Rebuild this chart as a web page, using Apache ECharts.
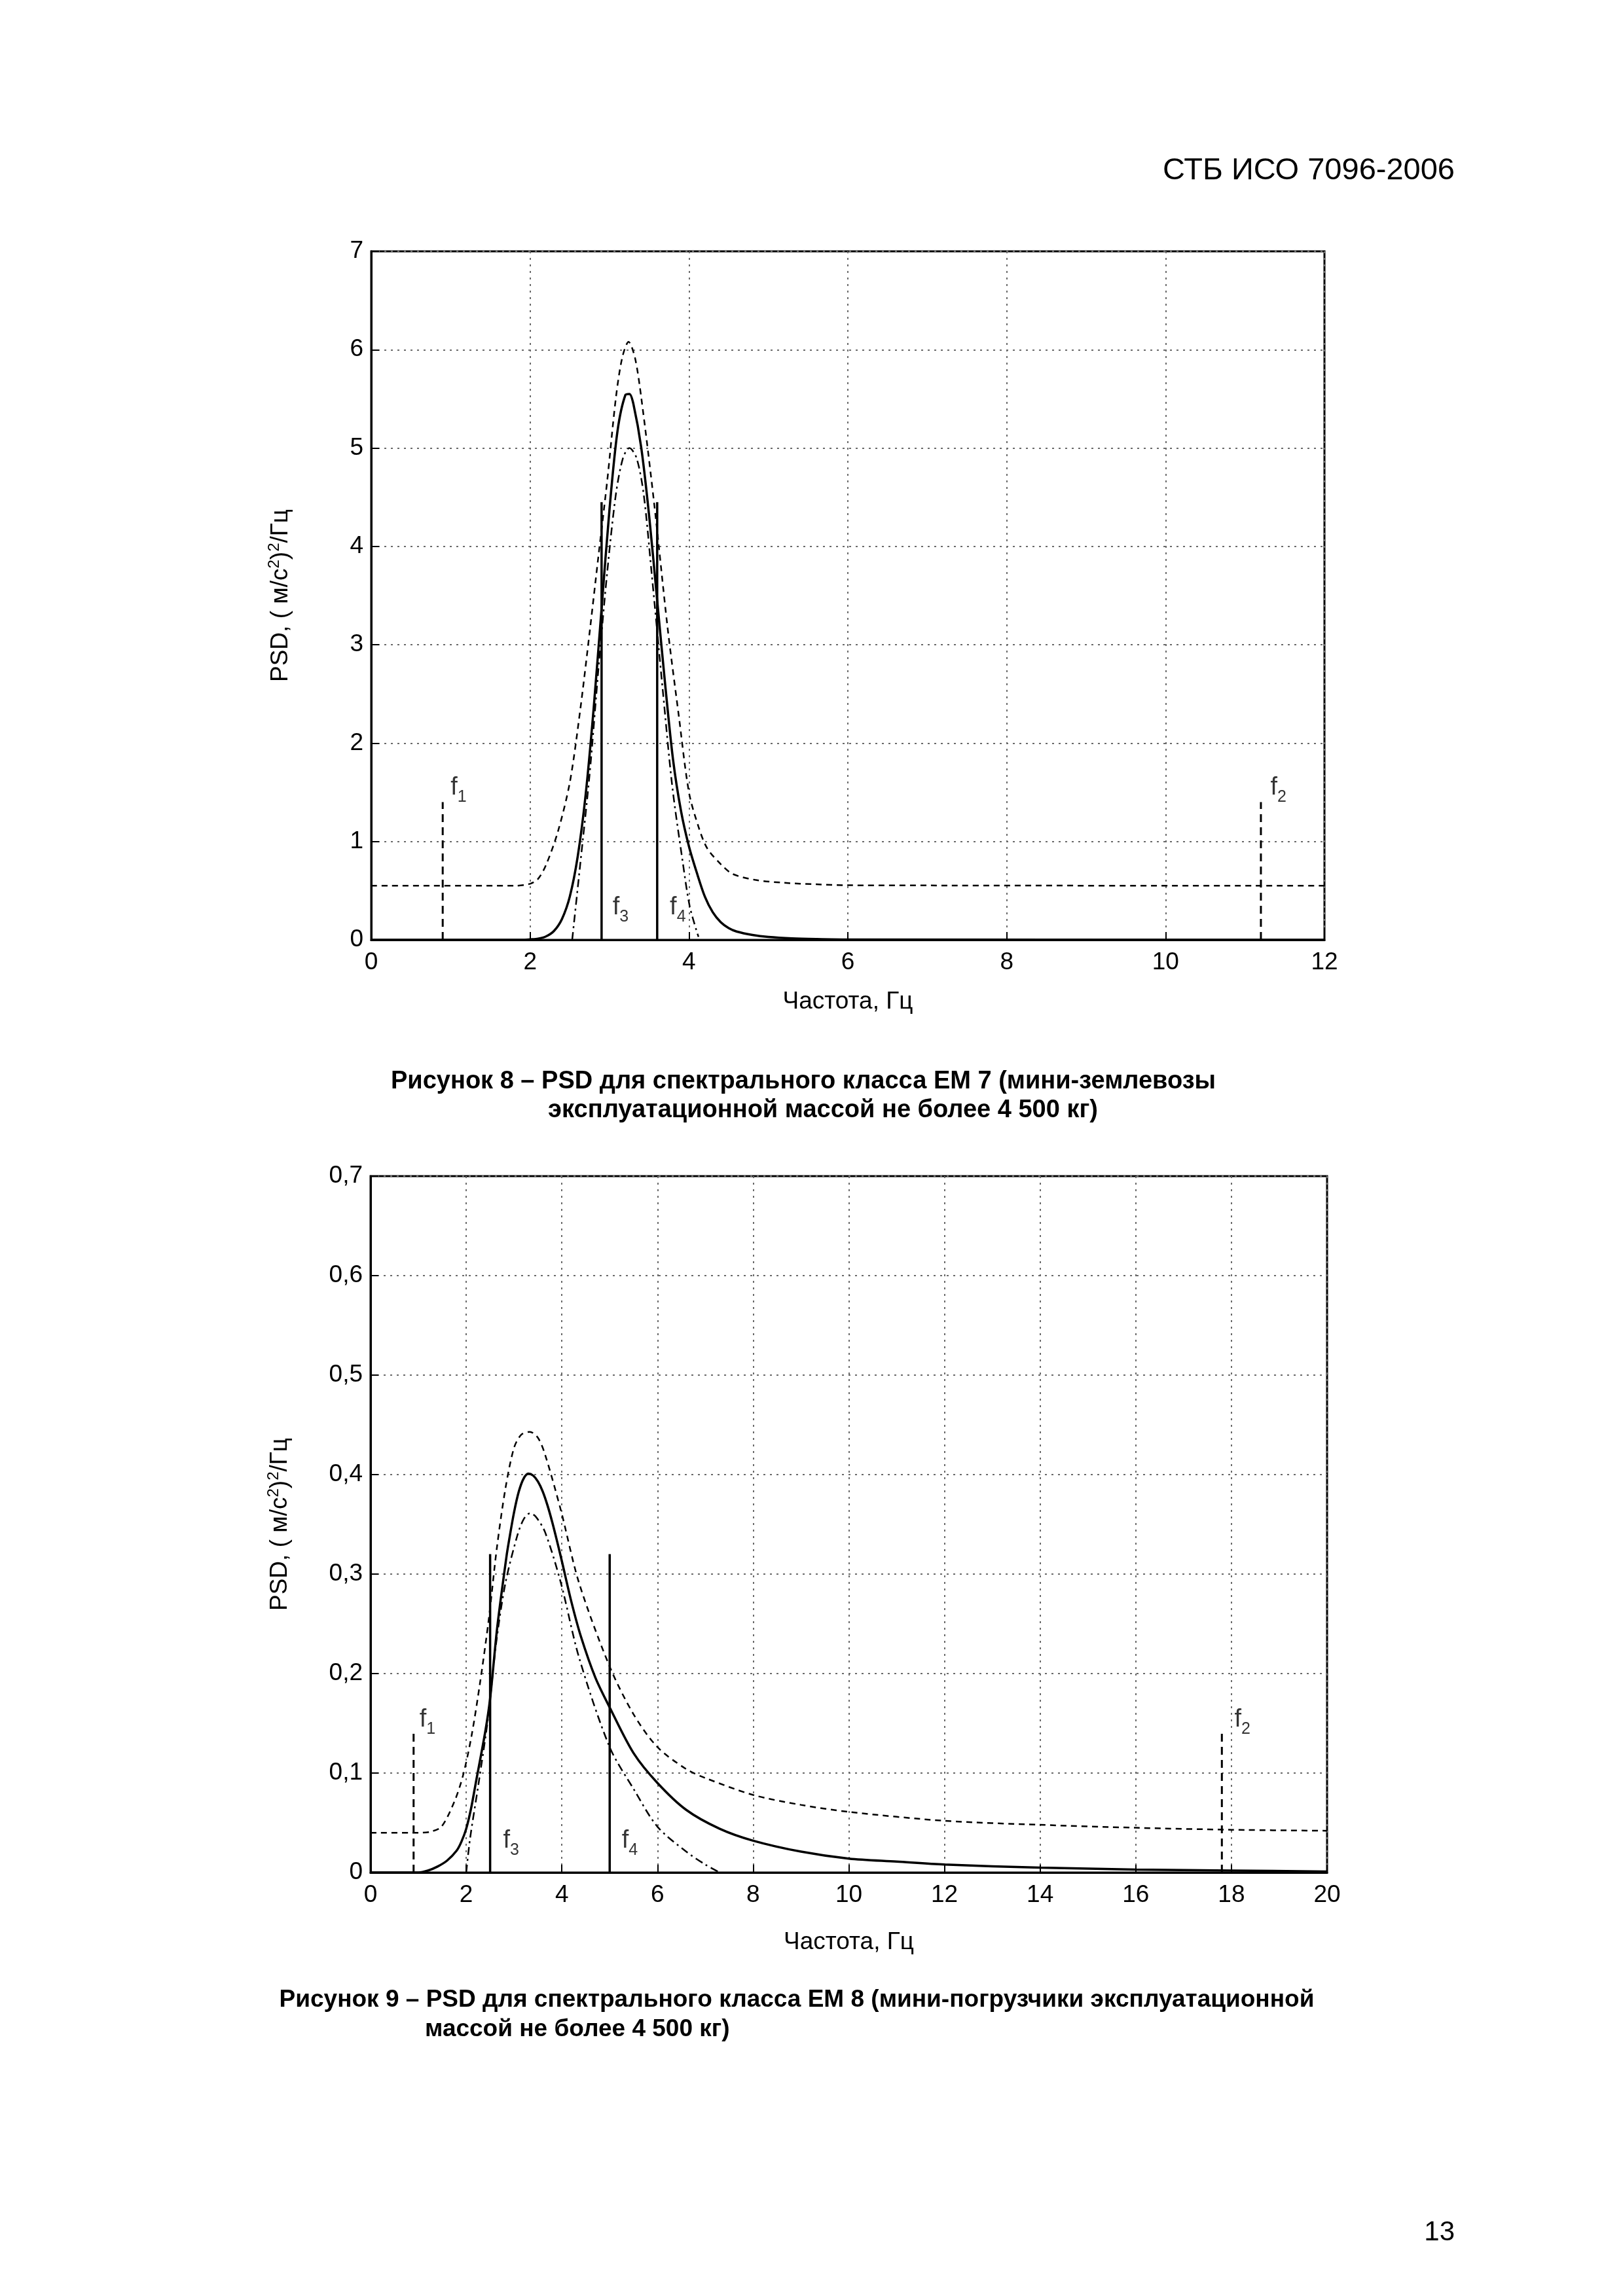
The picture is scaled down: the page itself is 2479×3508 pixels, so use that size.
<!DOCTYPE html>
<html>
<head>
<meta charset="utf-8">
<script src="https://cdn.jsdelivr.net/npm/echarts@6/dist/echarts.min.js"></script>
<style>
html,body{margin:0;padding:0;background:#fff;}
#c{width:2479px;height:3508px;}
</style>
</head>
<body>
<div id="c"></div>
<script>
// ---------- Figure 8 (EM 7) ----------
const em7SolidX = [0, 1.9, 2.0, 2.1, 2.2, 2.3, 2.4, 2.5, 2.6, 2.7, 2.8, 2.9, 3.0, 3.1, 3.2, 3.25, 3.3, 3.4, 3.5, 3.6, 3.7, 3.8, 3.9, 4.0, 4.1, 4.2, 4.3, 4.4, 4.5, 4.6, 4.8, 5.0, 5.3, 5.6, 6.0, 12];
const em7SolidY = [0, 0, 0.005, 0.012, 0.035, 0.09, 0.21, 0.44, 0.85, 1.48, 2.35, 3.37, 4.38, 5.17, 5.54, 5.55, 5.45, 5.0, 4.3, 3.45, 2.6, 1.83, 1.31, 0.95, 0.68, 0.44, 0.28, 0.18, 0.12, 0.085, 0.05, 0.03, 0.015, 0.008, 0.003, 0];
const em7UpperX = [0, 1.8, 2.0, 2.1, 2.2, 2.35, 2.5, 2.63, 2.75, 2.86, 2.97, 3.08, 3.16, 3.24, 3.32, 3.40, 3.56, 3.73, 3.87, 4.0, 4.12, 4.23, 4.4, 4.55, 4.83, 5.2, 5.6, 6.0, 12];
const em7UpperY = [0.55, 0.55, 0.57, 0.62, 0.76, 1.10, 1.6, 2.33, 3.13, 3.90, 4.66, 5.51, 5.92, 6.08, 5.92, 5.51, 4.45, 3.18, 2.29, 1.5, 1.15, 0.93, 0.77, 0.67, 0.61, 0.58, 0.565, 0.555, 0.55];
const em7LowerX = [2.53, 2.63, 2.75, 2.86, 2.97, 3.08, 3.17, 3.25, 3.34, 3.43, 3.53, 3.67, 3.79, 3.92, 4.01, 4.12];
const em7LowerY = [0, 0.76, 1.69, 2.75, 3.73, 4.53, 4.9, 5.0, 4.9, 4.53, 3.73, 2.54, 1.56, 0.80, 0.34, 0.03];
const em7MarkX = [0.9, 11.2, 2.9, 3.6];
const em7MarkH = [1.4, 1.4, 4.45, 4.45];
const em7LabelX = [1.1, 11.42, 3.14, 3.86];
const em7LabelY = [1.52, 1.52, 0.3, 0.3];
const em7XTicks = {min: 0, max: 12, interval: 2};
const em7YTicks = {min: 0, max: 7, interval: 1};

// ---------- Figure 9 (EM 8) ----------
const em8SolidX = [0, 1.0, 1.2, 1.4, 1.6, 1.8, 1.9, 2.0, 2.1, 2.2, 2.4, 2.5, 2.65, 2.84, 2.9, 3.0, 3.1, 3.2, 3.3, 3.4, 3.5, 3.6, 3.7, 3.8, 3.9, 4.0, 4.2, 4.4, 4.7, 5.0, 5.5, 6.0, 6.6, 7.3, 8, 9, 10, 11, 12, 14, 16, 18, 20];
const em8SolidY = [0, 0, 0.002, 0.006, 0.012, 0.022, 0.031, 0.044, 0.064, 0.09, 0.142, 0.175, 0.247, 0.317, 0.335, 0.362, 0.383, 0.396, 0.401, 0.399, 0.393, 0.383, 0.369, 0.352, 0.333, 0.313, 0.272, 0.237, 0.196, 0.166, 0.12, 0.09, 0.063, 0.044, 0.032, 0.021, 0.014, 0.011, 0.008, 0.005, 0.003, 0.002, 0.001];
const em8UpperX = [0, 1.0, 1.25, 1.48, 1.75, 1.93, 2.11, 2.29, 2.47, 2.64, 2.82, 3.0, 3.15, 3.33, 3.5, 3.65, 3.98, 4.36, 5.0, 5.5, 6.0, 6.6, 7.0, 8, 9, 10, 12, 14, 16, 18, 20];
const em8UpperY = [0.04, 0.04, 0.041, 0.046, 0.071, 0.097, 0.137, 0.191, 0.254, 0.326, 0.386, 0.427, 0.44, 0.443, 0.437, 0.42, 0.364, 0.291, 0.207, 0.159, 0.126, 0.104, 0.095, 0.078, 0.068, 0.061, 0.052, 0.048, 0.045, 0.043, 0.042];
const em8LowerX = [2.0, 2.08, 2.26, 2.45, 2.63, 2.82, 3.07, 3.2, 3.33, 3.45, 3.65, 3.98, 4.36, 5.0, 5.5, 6.0, 6.6, 7.0, 7.3];
const em8LowerY = [0, 0.034, 0.09, 0.153, 0.232, 0.291, 0.339, 0.355, 0.361, 0.358, 0.342, 0.291, 0.216, 0.126, 0.084, 0.046, 0.021, 0.008, 0];
const em8MarkX = [0.9, 17.8, 2.5, 5.0];
const em8MarkH = [0.14, 0.14, 0.32, 0.32];
const em8LabelX = [1.19, 18.23, 2.94, 5.42];
const em8LabelY = [0.151, 0.151, 0.029, 0.029];
const em8XTicks = {min: 0, max: 20, interval: 2};
const em8YTicks = {min: 0, max: 0.7, interval: 0.1};

const markSubs = ['1', '2', '3', '4'];
const markDashed = [true, true, false, false];

// ---------- Texts ----------
const headerText = 'СТБ ИСО 7096-2006';
const pageNumber = '13';
const caption8 = ['Рисунок 8 – PSD для спектрального класса EM 7 (мини-землевозы', 'эксплуатационной массой не более 4 500 кг)'];
const caption9 = ['Рисунок 9 – PSD для спектрального класса EM 8 (мини-погрузчики эксплуатационной', 'массой не более 4 500 кг)'];
const xTitle = 'Частота, Гц';
const yTitle = 'PSD, ( м/с{sup|2}){sup|2}/Гц';

const FONT = '"Liberation Sans", Arial, sans-serif';

const zip = (xs, ys) => xs.map((x, i) => [x, ys[i]]);

function axesFor(gridIndex, xt, yt, yFmt, xNameGap) {
  const common = {
    gridIndex: gridIndex,
    axisLine: {show: true, onZero: false, lineStyle: {color: '#000', width: 3}},
    axisTick: {show: true, inside: true, length: 12, lineStyle: {color: '#000', width: 2}},
    splitLine: {show: true, lineStyle: {color: '#6a6a6a', width: 2, type: [3, 7]}},
    axisLabel: {color: '#000', fontFamily: FONT, fontSize: 37},
    nameTextStyle: {color: '#000', fontFamily: FONT, fontSize: 37}
  };
  const x = Object.assign({}, common, {
    type: 'value', min: xt.min, max: xt.max, interval: xt.interval,
    name: xTitle, nameLocation: 'middle', nameGap: xNameGap,
    axisLabel: Object.assign({}, common.axisLabel, {margin: 16})
  });
  const y = Object.assign({}, common, {
    type: 'value', min: yt.min, max: yt.max, interval: yt.interval,
    name: yTitle, nameLocation: 'middle', nameGap: 116, nameRotate: 90,
    nameTextStyle: {color: '#000', fontFamily: FONT, fontSize: 37, lineHeight: 44,
      rich: {sup: {fontFamily: FONT, fontSize: 24, lineHeight: 24, verticalAlign: 'top', color: '#000'}}},
    axisLabel: Object.assign({}, common.axisLabel, {margin: 12, formatter: yFmt})
  });
  return {x, y};
}

function curve(idx, xs, ys, width, type, z) {
  return {type: 'line', xAxisIndex: idx, yAxisIndex: idx, data: zip(xs, ys), showSymbol: false,
    smooth: 0.3, lineStyle: {color: '#000', width: width, type: type}, z: z};
}

function seriesFor(idx, d) {
  const s = [];
  s.push(curve(idx, d.upX, d.upY, 2.5, [9, 7], 3));
  s.push(curve(idx, d.loX, d.loY, 2.5, [12, 6, 3, 6], 3));
  s.push(curve(idx, d.soX, d.soY, 3.5, 'solid', 4));
  d.mX.forEach((mx, i) => {
    s.push({type: 'line', xAxisIndex: idx, yAxisIndex: idx, data: [[mx, 0], [mx, d.mH[i]]], showSymbol: false,
      lineStyle: {color: '#000', width: markDashed[i] ? 3 : 3.5, type: markDashed[i] ? [12, 8] : 'solid'}, z: 5});
  });
  s.push({type: 'scatter', xAxisIndex: idx, yAxisIndex: idx, symbolSize: 1, itemStyle: {color: 'rgba(0,0,0,0)'},
    data: d.lX.map((x, i) => ({value: [x, d.lY[i]], sub: markSubs[i]})),
    label: {show: true, position: 'inside', color: '#000',
      formatter: p => '{f|f}{s|' + p.data.sub + '}',
      rich: {f: {fontFamily: FONT, fontSize: 38, lineHeight: 46, verticalAlign: 'top', color: '#000'},
             s: {fontFamily: FONT, fontSize: 25, lineHeight: 25, verticalAlign: 'bottom', color: '#000'}}},
    z: 6, silent: true});
  return s;
}

const a1 = axesFor(0, em7XTicks, em7YTicks, v => String(Math.round(v)), 76);
const a2 = axesFor(1, em8XTicks, em8YTicks, v => (v === 0 ? '0' : v.toFixed(1).replace('.', ',')), 88);

const chart = echarts.init(document.getElementById('c'), null, {renderer: 'canvas'});
chart.setOption({
  backgroundColor: '#fff',
  animation: false,
  grid: [
    {left: 567, top: 384, width: 1456, height: 1052, show: true, borderColor: '#000', borderWidth: 3, backgroundColor: 'transparent'},
    {left: 566, top: 1797, width: 1461, height: 1064, show: true, borderColor: '#000', borderWidth: 3, backgroundColor: 'transparent'}
  ],
  xAxis: [a1.x, a2.x],
  yAxis: [a1.y, a2.y],
  series: [].concat(
    seriesFor(0, {soX: em7SolidX, soY: em7SolidY, upX: em7UpperX, upY: em7UpperY, loX: em7LowerX, loY: em7LowerY,
      mX: em7MarkX, mH: em7MarkH, lX: em7LabelX, lY: em7LabelY}),
    seriesFor(1, {soX: em8SolidX, soY: em8SolidY, upX: em8UpperX, upY: em8UpperY, loX: em8LowerX, loY: em8LowerY,
      mX: em8MarkX, mH: em8MarkH, lX: em8LabelX, lY: em8LabelY})
  ),
  graphic: [
    {type: 'text', right: 2479 - 2222, top: 238, style: {text: headerText, fontFamily: FONT, fontSize: 47, fill: '#000'}},
    {type: 'text', x: 1227, y: 1653, style: {text: caption8[0], fontFamily: FONT, fontSize: 38, fontWeight: 'bold', fill: '#000', align: 'center', verticalAlign: 'middle'}},
    {type: 'text', x: 1257, y: 1697, style: {text: caption8[1], fontFamily: FONT, fontSize: 38, fontWeight: 'bold', fill: '#000', align: 'center', verticalAlign: 'middle'}},
    {type: 'text', x: 1217, y: 3056, style: {text: caption9[0], fontFamily: FONT, fontSize: 37, fontWeight: 'bold', fill: '#000', align: 'center', verticalAlign: 'middle'}},
    {type: 'text', x: 649, y: 3101, style: {text: caption9[1], fontFamily: FONT, fontSize: 37, fontWeight: 'bold', fill: '#000', align: 'left', verticalAlign: 'middle'}},
    {type: 'text', right: 2479 - 2222, top: 3390, style: {text: pageNumber, fontFamily: FONT, fontSize: 42, fill: '#000'}}
  ]
});
</script>
</body>
</html>
